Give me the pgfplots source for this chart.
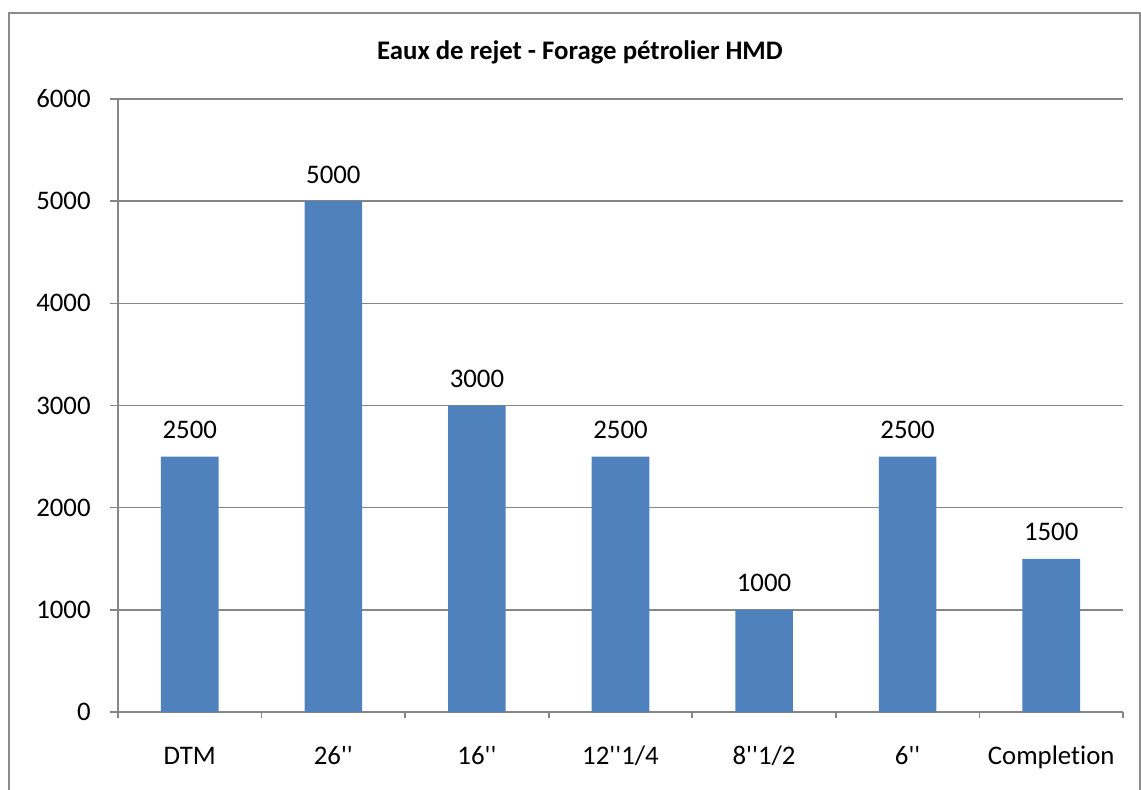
\documentclass[border=0pt]{standalone}
\usepackage{pgfplots}
\pgfplotsset{compat=1.18}
\usepackage{fontspec}
\setmainfont{Carlito}[Ligatures={TeXOff,CommonOff}]
\definecolor{barblue}{HTML}{4F81BD}
\definecolor{axisgray}{HTML}{868686}
\definecolor{framegray}{HTML}{8C8C8C}
\newcommand{\lbl}{\fontsize{13.4}{16}\selectfont}
\begin{document}
\begin{tikzpicture}[x=1pt,y=1pt]
% page extent (1px = 0.5pt, origin at the plot's lower-left corner)
\useasboundingbox (-59,-38.5) rectangle (511.5,356);
\draw[framegray, line width=1pt] (-54.5,-45) -- (-54.5,349.5) -- (511,349.5) -- (511,-45);
\begin{axis}[
  at={(0,0)}, anchor=south west,
  scale only axis,
  width=502.5pt, height=306.5pt,
  xmin=-0.5, xmax=6.5,
  ymin=0, ymax=6000,
  ytick={0,1000,...,6000},
  xtick={0,...,6},
  xticklabels={DTM,{26''},{16''},{12''1/4},{8''1/2},{6''},{Complet\kern0pt ion}},
  minor xtick={-0.5,0.5,...,6.5},
  axis x line*=bottom,
  axis y line*=left,
  axis line style={axisgray, line width=0.8pt, -},
  tick align=outside,
  major tick style={axisgray, line width=0.8pt},
  minor tick style={axisgray, line width=0.8pt},
  major x tick style={draw=none},
  major tick length=4pt,
  minor tick length=3pt,
  ymajorgrids,
  grid style={axisgray, line width=0.8pt},
  font=\lbl,
  /pgf/number format/assume math mode=true,
  /pgf/number format/1000 sep={},
  yticklabel style={anchor=east, inner sep=0pt, xshift=-9.5pt},
  xticklabel style={anchor=base, inner sep=0pt, yshift=-22pt},
  ybar, bar width=28.8pt,
  nodes near coords,
  every node near coord/.append style={anchor=base, inner sep=0pt, yshift=9pt, font=\lbl},
  clip=false,
]
\addplot[fill=barblue, draw=none] coordinates {
  (0,2500) (1,5000) (2,3000) (3,2500) (4,1000) (5,2500) (6,1500)
};
\end{axis}
\node[anchor=base, inner sep=0pt, font=\lbl\bfseries] at (231,326.5) {Eaux de rejet - Forage pétrolier HMD};
\end{tikzpicture}
\end{document}
